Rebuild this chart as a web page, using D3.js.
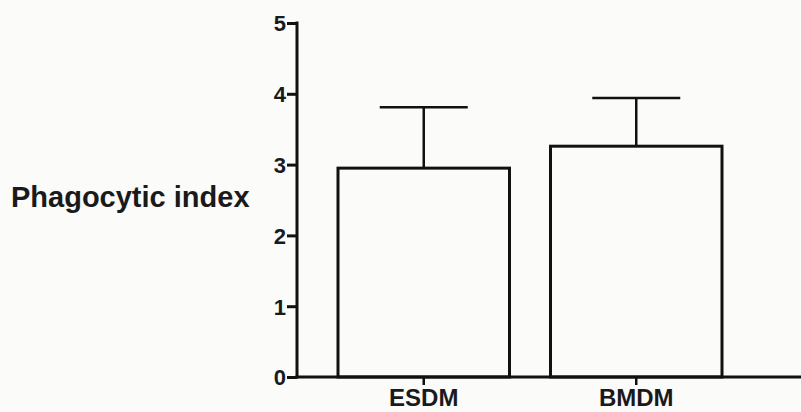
<!DOCTYPE html>
<html>
<head>
<meta charset="utf-8">
<script src="https://cdn.jsdelivr.net/npm/d3@7"></script>
<style>
  html, body { margin: 0; padding: 0; background: #fbfbfa; }
  svg { display: block; font-family: "Liberation Sans", Arial, sans-serif; }
</style>
</head>
<body>
<div id="chart"></div>
<script>
// Chart data
const categories = ['ESDM', 'BMDM'];
const means = [2.95, 3.26];
const errorTops = [3.81, 3.94];
const yTicks = [0, 1, 2, 3, 4, 5];

const width = 801, height = 412;

const svg = d3.select('#chart').append('svg')
  .attr('width', width)
  .attr('height', height);

const y = d3.scaleLinear().domain([0, 5]).range([377, 23]);
const x = d3.scaleBand().domain(categories)
  .range([338, 722])
  .paddingInner(0.193)
  .paddingOuter(0);

const axisX0 = 297;

// Bars
svg.selectAll('rect.bar')
  .data(categories)
  .enter().append('rect')
  .attr('class', 'bar')
  .attr('x', d => x(d))
  .attr('y', (d, i) => y(means[i]))
  .attr('width', x.bandwidth())
  .attr('height', (d, i) => y(0) - y(means[i]))
  .style('fill', 'none')
  .style('stroke', '#111')
  .style('stroke-width', 3);

// Error bars (upper only)
const capHalf = 44;
const eb = svg.selectAll('g.err')
  .data(categories)
  .enter().append('g')
  .attr('class', 'err')
  .style('stroke', '#111')
  .style('stroke-width', 2.5);

eb.append('line')
  .attr('x1', d => x(d) + x.bandwidth() / 2)
  .attr('x2', d => x(d) + x.bandwidth() / 2)
  .attr('y1', (d, i) => y(means[i]))
  .attr('y2', (d, i) => y(errorTops[i]));

eb.append('line')
  .attr('x1', d => x(d) + x.bandwidth() / 2 - capHalf)
  .attr('x2', d => x(d) + x.bandwidth() / 2 + capHalf)
  .attr('y1', (d, i) => y(errorTops[i]))
  .attr('y2', (d, i) => y(errorTops[i]));

// Y axis
const yAxis = d3.axisLeft(y).tickValues(yTicks).tickFormat(d3.format('d'))
  .tickSize(10).tickSizeOuter(0).tickPadding(1);
const gy = svg.append('g')
  .attr('transform', `translate(${axisX0},0)`)
  .call(yAxis);
gy.select('.domain').remove();
gy.append('line')
  .attr('x1', 0).attr('x2', 0)
  .attr('y1', y(5) - 1.5).attr('y2', y(0) + 1.5)
  .style('stroke', '#111').style('stroke-width', 3);
gy.selectAll('.tick line').style('stroke', '#111').style('stroke-width', 3);
gy.selectAll('.tick text')
  .attr('dy', '0.36em')
  .style('font-size', '22px')
  .style('font-weight', 'bold')
  .style('fill', '#1a1a1a');

// X axis
const xAxis = d3.axisBottom(x).tickSize(8).tickSizeOuter(0).tickPadding(4);
const gx = svg.append('g')
  .attr('transform', `translate(0,${y(0)})`)
  .call(xAxis);
gx.select('.domain').remove();
gx.append('line')
  .attr('x1', axisX0 - 1.5).attr('x2', width)
  .attr('y1', 0).attr('y2', 0)
  .style('stroke', '#111').style('stroke-width', 3);
gx.selectAll('.tick line').style('stroke', '#111').style('stroke-width', 2.5);
gx.selectAll('.tick text')
  .style('font-size', '24px')
  .style('font-weight', 'bold')
  .style('fill', '#1a1a1a');

// Y axis title
svg.append('text')
  .attr('x', 11)
  .attr('y', 207)
  .text('Phagocytic index')
  .style('font-size', '29px')
  .style('font-weight', 'bold')
  .style('fill', '#1a1a1a');
</script>
</body>
</html>
